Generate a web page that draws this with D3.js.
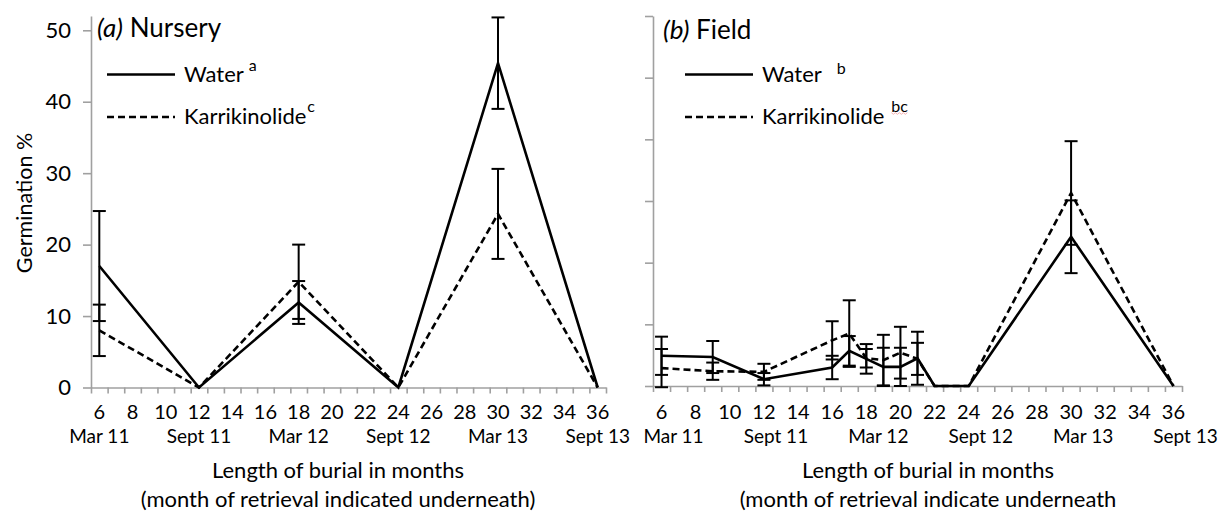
<!DOCTYPE html>
<html>
<head>
<meta charset="utf-8">
<script src="https://cdn.jsdelivr.net/npm/d3@7"></script>
<style>
  html, body { margin: 0; padding: 0; background: #fff; }
  svg { display: block; font-family: Lato, "Open Sans", sans-serif; }
</style>
</head>
<body>
<svg id="chart" width="1220" height="513"></svg>
<script>
// Months of burial at which seed packets were retrieved
const nurseryMonths = [6, 12, 18, 24, 30, 36];
const nurseryWater = [17.0, 0, 11.9, 0, 45.4, 0];
const nurseryWaterErr = [7.7, 0, 3.0, 0, 6.4, 0];
const nurseryKar = [8.0, 0, 14.8, 0, 24.3, 0];
const nurseryKarErr = [3.6, 0, 5.2, 0, 6.3, 0];

const fieldMonths = [6, 9, 12, 16, 17, 18, 19, 20, 21, 22, 24, 30, 36];
const fieldWater = [4.9, 4.7, 1.1, 3.0, 5.7, 4.4, 3.1, 3.1, 4.5, 0, 0, 24.2, 0];
const fieldWaterErr = [3.1, 2.6, 1.0, 1.9, 2.4, 2.4, 3.1, 3.1, 4.3, 0, 0, 5.9, 0];
const fieldKar = [2.9, 2.4, 2.3, 7.4, 8.5, 4.5, 4.2, 5.4, 4.4, 0, 0, 31.3, 0];
const fieldKarErr = [3.1, 1.4, 1.3, 3.1, 5.4, 1.5, 4.1, 4.2, 2.6, 0, 0, 8.4, 0];

// Axis labels
const monthTicks = d3.range(6, 37, 2);
const retrievalMonths = [6, 12, 18, 24, 30, 36];
const retrievalLabels = ["Mar 11", "Sept 11", "Mar 12", "Sept 12", "Mar 13", "Sept 13"];
const nurseryYTicks = [0, 10, 20, 30, 40, 50];
const fieldYTicks = [0, 10, 20, 30, 40, 50, 60];

const svg = d3.select("#chart");
const AXIS_GREY = "#a0a0a0";

function drawPanel(cfg) {
  const x = d3.scaleLinear().domain([5.5, 36.5]).range(cfg.xRange);
  const y = d3.scaleLinear().domain(cfg.yDomain).range(cfg.yRange);
  const g = svg.append("g");

  // x axis: minor ticks between months
  const xAxis = d3.axisBottom(x)
    .tickValues(d3.range(5.5, 36.6, 1))
    .tickSize(6).tickSizeOuter(0).tickFormat("");
  const gx = g.append("g").attr("transform", `translate(0,${cfg.yRange[0]})`).call(xAxis);
  gx.selectAll("path,line").attr("stroke", AXIS_GREY).attr("stroke-width", 1.6);

  // y axis
  const yAxis = d3.axisLeft(y).tickValues(cfg.yTicks).tickSize(8).tickSizeOuter(0)
    .tickPadding(12).tickFormat(cfg.showYLabels ? d3.format("d") : "");
  const gy = g.append("g").attr("transform", `translate(${cfg.xRange[0]},0)`).call(yAxis);
  gy.selectAll("path,line").attr("stroke", AXIS_GREY).attr("stroke-width", 1.6);
  gy.selectAll("text").attr("fill", "#000").attr("font-size", 22).attr("font-family", "Lato");

  // month number labels
  g.selectAll(".mnum").data(monthTicks).join("text")
    .attr("x", d => x(d)).attr("y", 419)
    .attr("text-anchor", "middle").attr("font-size", 20).text(d => d);

  // retrieval month labels
  g.selectAll(".mret").data(retrievalMonths).join("text")
    .attr("x", d => x(d) + cfg.retrievalShift).attr("y", 443)
    .attr("text-anchor", "middle").attr("font-size", 19).text((d, i) => retrievalLabels[i]);

  g.append("text").attr("x", cfg.titleX).attr("y", 478).attr("text-anchor", "middle")
    .attr("font-size", 22).text("Length of burial in months");
  g.append("text").attr("x", cfg.titleX).attr("y", 507).attr("text-anchor", "middle")
    .attr("font-size", 22).text(cfg.subtitle);

  // series
  const series = [
    { vals: cfg.water, errs: cfg.waterErr, dash: null },
    { vals: cfg.kar, errs: cfg.karErr, dash: "7,4" }
  ];
  const line = d3.line().x(d => x(d[0])).y(d => y(d[1]));
  series.forEach(s => {
    const pts = cfg.months.map((m, i) => [m, s.vals[i], s.errs[i]]);
    g.append("path").datum(pts).attr("d", line)
      .attr("fill", "none").attr("stroke", "#000").attr("stroke-width", 2.6)
      .attr("stroke-dasharray", s.dash).attr("stroke-linejoin", "miter");
    const eb = g.append("g").attr("stroke", "#000").attr("stroke-width", 2);
    pts.filter(p => p[2] > 0).forEach(p => {
      const cx = x(p[0]), top = y(p[1] + p[2]), bot = y(p[1] - p[2]);
      eb.append("line").attr("x1", cx).attr("x2", cx).attr("y1", top).attr("y2", bot);
      eb.append("line").attr("x1", cx - 6.5).attr("x2", cx + 6.5).attr("y1", top).attr("y2", top);
      eb.append("line").attr("x1", cx - 6.5).attr("x2", cx + 6.5).attr("y1", bot).attr("y2", bot);
    });
  });

  // panel title
  const t = g.append("text").attr("x", cfg.titleLeft).attr("y", cfg.titleY).attr("font-size", 26);
  t.append("tspan").attr("font-style", "italic").text(cfg.tag);
  t.append("tspan").text(" " + cfg.site);

  // legend
  const lx = cfg.legendX;
  g.append("line").attr("x1", lx).attr("x2", lx + 68).attr("y1", 74.5).attr("y2", 74.5)
    .attr("stroke", "#000").attr("stroke-width", 2.6);
  g.append("line").attr("x1", lx).attr("x2", lx + 68).attr("y1", 117).attr("y2", 117)
    .attr("stroke", "#000").attr("stroke-width", 2.6).attr("stroke-dasharray", "7,4");
  const w = g.append("text").attr("x", lx + 77).attr("y", 82).attr("font-size", 22);
  w.append("tspan").text("Water");
  w.append("tspan").attr("font-size", 16).attr("dx", cfg.waterSupGap).attr("dy", cfg.waterSupRise)
    .text(cfg.waterSup);
  const k = g.append("text").attr("x", lx + 77).attr("y", 124).attr("font-size", 22);
  k.append("tspan").text("Karrikinolide");
  const ks = k.append("tspan").attr("font-size", 16).attr("dx", cfg.karSupGap).attr("dy", -12)
    .text(cfg.karSup);
  return { g, ks };
}

drawPanel({
  xRange: [91, 606], yDomain: [0, 52], yRange: [387.5, 16], yTicks: nurseryYTicks,
  showYLabels: true, retrievalShift: 0, titleX: 338,
  subtitle: "(month of retrieval indicated underneath)",
  months: nurseryMonths, water: nurseryWater, waterErr: nurseryWaterErr,
  kar: nurseryKar, karErr: nurseryKarErr,
  legendX: 107, titleLeft: 97, titleY: 37, tag: "(a)", site: "Nursery",
  waterSup: "a", waterSupGap: 5, waterSupRise: -11, karSup: "c", karSupGap: 1
});

const field = drawPanel({
  xRange: [653, 1182], yDomain: [0, 60], yRange: [386, 16], yTicks: fieldYTicks,
  showYLabels: false, retrievalShift: 12, titleX: 928,
  subtitle: "(month of retrieval indicate underneath",
  months: fieldMonths, water: fieldWater, waterErr: fieldWaterErr,
  kar: fieldKar, karErr: fieldKarErr,
  legendX: 685, titleLeft: 663, titleY: 39, tag: "(b)", site: "Field",
  waterSup: "b", waterSupGap: 15, waterSupRise: -8, karSup: "bc", karSupGap: 7
});

// faint spell-check squiggle under the "bc" note
const bb = field.ks.node().getBBox();
const sq = d3.range(0, Math.floor(bb.width / 2) + 1).map(i => [bb.x + i * 2, 113.5 + (i % 2 ? 0.8 : -0.8)]);
svg.append("path").attr("d", d3.line()(sq)).attr("fill", "none")
  .attr("stroke", "#f2a0a0").attr("stroke-width", 0.8);

// y axis title
svg.append("text").attr("transform", "translate(32,203) rotate(-90)")
  .attr("text-anchor", "middle").attr("font-size", 21.5).text("Germination %");
</script>
</body>
</html>
